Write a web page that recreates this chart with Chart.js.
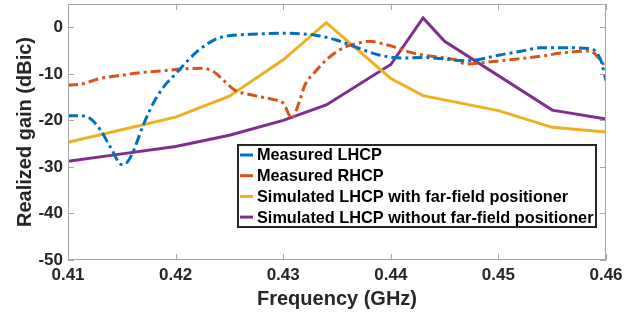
<!DOCTYPE html>
<html lang="en">
<head>
<meta charset="UTF-8">
<title>Realized gain vs frequency</title>
<script src="https://cdn.jsdelivr.net/npm/chart.js"></script>
<style>
  body, html { margin: 0; padding: 0; background: #fff; }
  #wrap { width: 638px; height: 313px; }
</style>
</head>
<body>
<div id="wrap"><canvas id="gainChart" width="638" height="313"></canvas></div>
<script>
// series names
const seriesNames = [
  'Measured LHCP',
  'Measured RHCP',
  'Simulated LHCP with far-field positioner',
  'Simulated LHCP without far-field positioner'
];

// Measured LHCP
const freqMeasL = [0.410, 0.411, 0.412, 0.413, 0.414, 0.415, 0.4155, 0.416, 0.417, 0.418, 0.419, 0.420, 0.421, 0.422, 0.423, 0.424, 0.425, 0.427, 0.430, 0.433, 0.435, 0.437, 0.439, 0.441, 0.443, 0.445, 0.447, 0.448, 0.450, 0.452, 0.454, 0.456, 0.4585, 0.4595, 0.460];
const gainMeasL = [-19, -19, -19.5, -22, -26, -29.5, -29, -27, -21, -16, -12.5, -10, -7.5, -5.2, -3.5, -2.3, -1.8, -1.5, -1.3, -1.7, -2.8, -4.5, -6, -6.6, -6.5, -6.8, -7.2, -7.0, -6, -5.2, -4.4, -4.4, -4.6, -7, -11.5];

// Measured RHCP
const freqMeasR = [0.410, 0.411, 0.413, 0.415, 0.417, 0.419, 0.421, 0.4225, 0.4235, 0.4245, 0.4255, 0.427, 0.429, 0.430, 0.4308, 0.4315, 0.432, 0.433, 0.434, 0.435, 0.436, 0.437, 0.438, 0.439, 0.440, 0.442, 0.444, 0.446, 0.447, 0.449, 0.451, 0.454, 0.456, 0.4585, 0.460];
const gainMeasR = [-12.4, -12.3, -11, -10.3, -9.7, -9.3, -8.9, -8.8, -9.5, -11.5, -13.5, -14.5, -15.5, -16.3, -19.5, -16, -12.5, -9.5, -7, -5.2, -4, -3.4, -3.0, -3.4, -4, -5.5, -6.3, -7, -7.9, -7.5, -7, -6.2, -5.5, -5.1, -8.6];

// Simulated LHCP with far-field positioner
const freqSimWith = [0.410, 0.415, 0.420, 0.425, 0.430, 0.434, 0.440, 0.443, 0.450, 0.455, 0.460];
const gainSimWith = [-24.7, -22, -19.3, -14.8, -7, 1, -11, -14.7, -17.9, -21.5, -22.5];

// Simulated LHCP without far-field positioner
const freqSimWithout = [0.410, 0.415, 0.420, 0.425, 0.430, 0.434, 0.440, 0.443, 0.445, 0.455, 0.460];
const gainSimWithout = [-28.8, -27.2, -25.6, -23.2, -20, -16.7, -8, 2, -3, -17.8, -19.7];

// tick labels
const xTicks = [0.41, 0.42, 0.43, 0.44, 0.45, 0.46];
const yTicks = [-50, -40, -30, -20, -10, 0];

const colors = ['#0072BD', '#D95319', '#EDB120', '#7E2F8E'];
const dashes = [[10, 4, 3, 4], [10, 4, 3, 4], [], []];

function pts(xs, ys) {
  return xs.map((x, i) => ({ x: x, y: ys[i] }));
}

const seriesData = [
  pts(freqMeasL, gainMeasL),
  pts(freqMeasR, gainMeasR),
  pts(freqSimWith, gainSimWith),
  pts(freqSimWithout, gainSimWithout)
];

const axisColor = '#a6a6a6';
const textColor = '#262626';
const font = 'Liberation Sans, Arial, sans-serif';

// box, inward ticks and legend drawn on top
const boxPlugin = {
  id: 'boxPlugin',
  afterDatasetsDraw(chart) {
    const ctx = chart.ctx;
    const a = chart.chartArea;
    const xs = chart.scales.x, ys = chart.scales.y;
    ctx.save();
    ctx.strokeStyle = axisColor;
    ctx.lineWidth = 1;
    ctx.strokeRect(a.left + 0.5, a.top + 0.5, a.right - a.left - 1, a.bottom - a.top - 1);
    ctx.beginPath();
    xTicks.forEach(v => {
      const px = Math.round(xs.getPixelForValue(v)) + 0.5;
      ctx.moveTo(px, a.bottom); ctx.lineTo(px, a.bottom - 6);
      ctx.moveTo(px, a.top); ctx.lineTo(px, a.top + 6);
    });
    yTicks.forEach(v => {
      const py = Math.round(ys.getPixelForValue(v)) + 0.5;
      ctx.moveTo(a.left, py); ctx.lineTo(a.left + 6, py);
      ctx.moveTo(a.right, py); ctx.lineTo(a.right - 6, py);
    });
    ctx.stroke();

    // legend
    const lx = 238, ly = 145, lw = 358, lh = 82;
    ctx.fillStyle = '#fff';
    ctx.fillRect(lx, ly, lw, lh);
    ctx.strokeStyle = '#262626';
    ctx.lineWidth = 2;
    ctx.strokeRect(lx, ly, lw, lh);
    ctx.font = 'bold 16.3px ' + font;
    ctx.textBaseline = 'middle';
    ctx.fillStyle = '#000';
    seriesNames.forEach((name, i) => {
      const yy = 155 + i * 20.7;
      ctx.strokeStyle = colors[i];
      ctx.lineWidth = 3;
      ctx.beginPath();
      ctx.moveTo(lx + 2, yy); ctx.lineTo(lx + 15, yy);
      ctx.stroke();
      ctx.fillText(name, lx + 19, yy + 1);
    });
    ctx.restore();
  }
};

new Chart(document.getElementById('gainChart'), {
  type: 'line',
  data: {
    datasets: seriesData.map((d, i) => ({
      label: seriesNames[i],
      data: d,
      borderColor: colors[i],
      backgroundColor: colors[i],
      borderWidth: 3,
      borderDash: dashes[i],
      pointRadius: 0,
      tension: 0,
      cubicInterpolationMode: i < 2 ? 'monotone' : 'default',
      fill: false
    }))
  },
  options: {
    responsive: false,
    animation: false,
    layout: { padding: { top: 4, right: 32, left: 0, bottom: 0 } },
    plugins: { legend: { display: false }, tooltip: { enabled: false } },
    scales: {
      x: {
        type: 'linear',
        min: 0.41,
        max: 0.46,
        afterBuildTicks: s => { s.ticks = xTicks.map(v => ({ value: v })); },
        afterFit: s => { s.height = 53; s.paddingLeft = 0; s.paddingRight = 0; },
        grid: { display: false, drawTicks: false },
        border: { display: false },
        ticks: {
          color: textColor,
          font: { family: font, size: 17, weight: 'bold' },
          padding: 5,
          maxRotation: 0,
          callback: v => v.toFixed(2)
        },
        title: {
          display: true,
          text: 'Frequency (GHz)',
          color: textColor,
          font: { family: font, size: 20, weight: 'bold' },
          padding: { top: 0, bottom: 2 }
        }
      },
      y: {
        type: 'linear',
        min: -50,
        max: 5,
        afterBuildTicks: s => { s.ticks = yTicks.map(v => ({ value: v })); },
        afterFit: s => { s.width = 68; s.paddingTop = 0; s.paddingBottom = 0; },
        grid: { display: false, drawTicks: false },
        border: { display: false },
        ticks: {
          color: textColor,
          font: { family: font, size: 17, weight: 'bold' },
          padding: 5
        },
        title: {
          display: true,
          text: 'Realized gain (dBic)',
          color: textColor,
          font: { family: font, size: 20, weight: 'bold' },
          padding: { top: 13, bottom: 0 }
        }
      }
    }
  },
  plugins: [boxPlugin]
});
</script>
</body>
</html>
